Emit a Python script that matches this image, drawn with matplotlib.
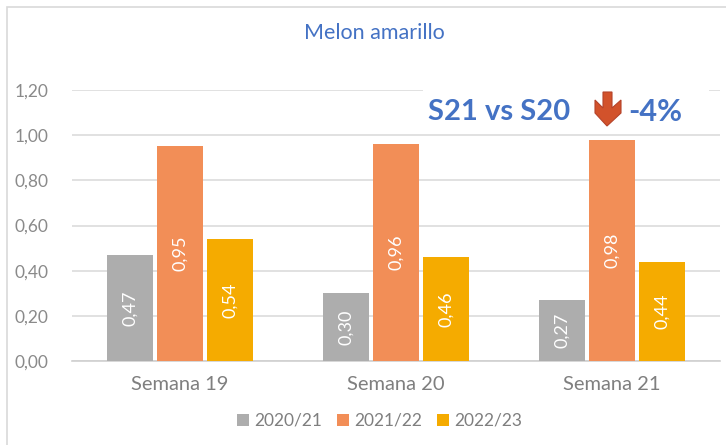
import matplotlib
matplotlib.use("Agg")
import matplotlib.pyplot as plt
from matplotlib.patches import Polygon, Rectangle
import numpy as np

categories = ["Semana 19", "Semana 20", "Semana 21"]
seasons = ["2020/21", "2021/22", "2022/23"]
values_2021 = [0.47, 0.30, 0.27]
values_2122 = [0.95, 0.96, 0.98]
values_2223 = [0.54, 0.46, 0.44]
colors = ["#ADADAD", "#F28E57", "#F5AB00"]
yticks = [0.0, 0.2, 0.4, 0.6, 0.8, 1.0, 1.2]

W, H = 726, 445
plt.rcParams["font.family"] = ["Lato", "DejaVu Sans"]

fig = plt.figure(figsize=(W / 100, H / 100), dpi=100)
ax = fig.add_axes([72 / W, 1 - 361 / H, 648 / W, 271 / H])

x = np.arange(len(categories))
step = 0.2315
width = 0.213
series = [values_2021, values_2122, values_2223]
for i, vals in enumerate(series):
    bars = ax.bar(x + (i - 1) * step, vals, width, color=colors[i], label=seasons[i], zorder=3)
    for b, v in zip(bars, vals):
        ax.text(b.get_x() + b.get_width() / 2, v / 2, f"{v:.2f}".replace(".", ","),
                rotation=90, ha="center", va="center", color="white", fontsize=13, zorder=4)

ax.set_xlim(-0.5, 2.5)
ax.set_ylim(0, 1.2)
ax.set_yticks(yticks)
ax.set_yticklabels([f"{t:.2f}".replace(".", ",") for t in yticks], fontsize=12.5, color="#8A8A8A")
ax.set_xticks(x)
ax.set_xticklabels(categories, fontsize=14.5, color="#7F7F7F")
ax.tick_params(axis="both", length=0)
ax.tick_params(axis="y", pad=17)
ax.tick_params(axis="x", pad=11)
ax.grid(axis="y", color="#DCDCDC", linewidth=1.2, zorder=0)
ax.set_axisbelow(True)
for s in ["top", "right", "left"]:
    ax.spines[s].set_visible(False)
ax.spines["bottom"].set_color("#D0D0D0")
ax.spines["bottom"].set_linewidth(1.2)

# outer frame of the chart, right and bottom sides are cut off
fig.add_artist(Rectangle((7 / W, -0.02), (W - 4) / W, 1 - 7 / H + 0.02, transform=fig.transFigure,
                         fill=False, ec="#D9D9D9", lw=1.2))

fig.text(374 / W, 1 - 33 / H, "Melon amarillo", ha="center", va="center", color="#4472C4", fontsize=15.5)

# pasted callout over the gridline
fig.add_artist(Rectangle((423 / W, 1 - 133 / H), 286 / W, 63 / H, transform=fig.transFigure,
                         fc="white", ec="none", zorder=5))
fig.text(428 / W, 1 - 112 / H, "S21 vs S20", ha="left", va="center", color="#4472C4",
         fontsize=21, fontweight="bold", zorder=6)
fig.text(628 / W, 1 - 112 / H, "-4%", ha="left", va="center", color="#4472C4",
         fontsize=22, fontweight="bold", zorder=6)
arrow_px = [(603, 92), (612, 92), (612, 108), (621, 100), (621, 113), (607, 126),
            (595, 113), (595, 100), (603, 108)]
fig.add_artist(Polygon([(a / W, 1 - b / H) for a, b in arrow_px], closed=True, transform=fig.transFigure,
                       fc="#D2522B", ec="#B5432A", lw=0.8, zorder=6))

handles, labels = ax.get_legend_handles_labels()
fig.legend(handles, labels, loc="center", bbox_to_anchor=(380 / W, 1 - 421 / H), ncol=3, frameon=False,
           fontsize=12.5, labelcolor="#7F7F7F", handlelength=0.7, handleheight=0.7, handletextpad=0.3,
           columnspacing=0.85)

fig.savefig("out.png", dpi=100)
